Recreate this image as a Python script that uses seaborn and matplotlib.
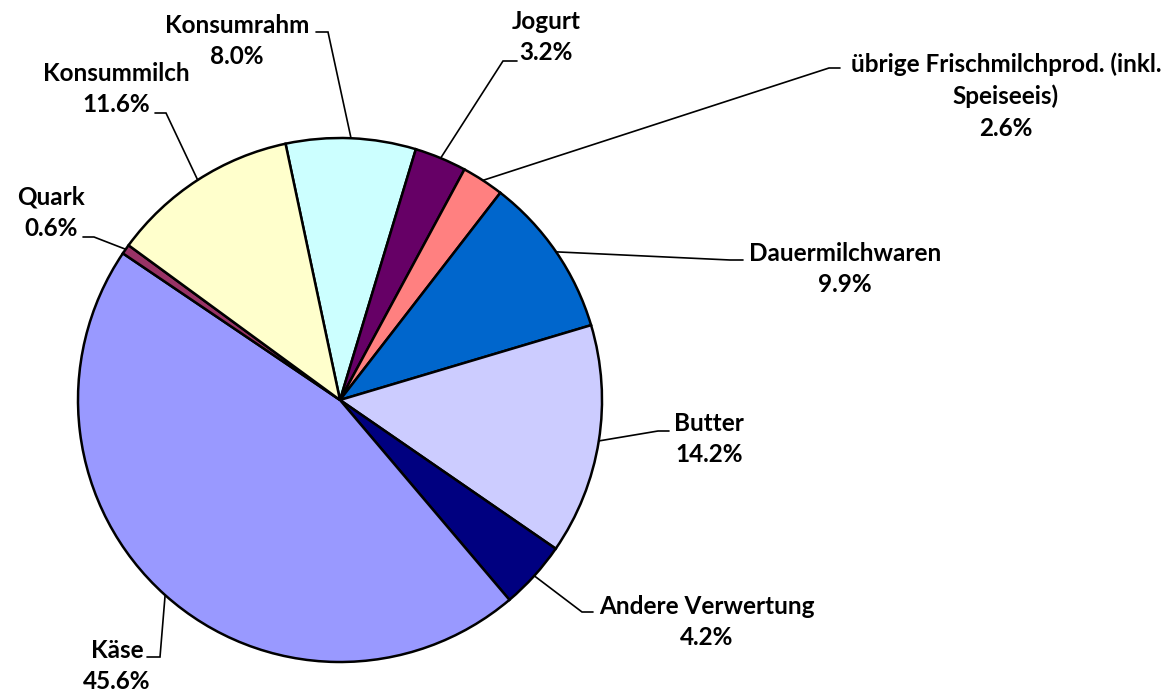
import textwrap
import matplotlib
matplotlib.use("Agg")
import matplotlib.pyplot as plt
import numpy as np
import seaborn as sns

# --------------------------
# Data (clockwise from the top)
# --------------------------
categories = ["Konsumrahm", "Jogurt", "übrige Frischmilchprod. (inkl. Speiseeis)",
              "Dauermilchwaren", "Butter", "Andere Verwertung", "Käse", "Quark",
              "Konsummilch"]
shares = [8.0, 3.2, 2.6, 9.9, 14.2, 4.2, 45.6, 0.6, 11.6]
colors = ["#CCFFFF", "#660066", "#FF8080", "#0066CC", "#CCCCFF", "#000080",
          "#9999FF", "#993366", "#FFFFCC"]

# label layout in pixel coords (x, y from top): text centre, elbow, line end
text_pos = [(237, 41), (546, 37), (1006, 96), (845, 269), (709, 439),
            (707, 622), (117, 666), (51, 213), (116, 89)]
elbow_pos = [(328, 32), (503, 61), (829, 68), (730, 260), (658, 431),
             (582, 612), (160, 657), (94, 237), (166, 113)]
end_pos = [(316, 32), (517, 61), (840, 68), (743, 260), (669, 431),
           (593, 612), (147, 657), (83, 237), (155, 113)]

W, H = 1175, 694
CX, CY, R = 340, 400, 262

sns.set_theme(style="white")
plt.rcParams["font.family"] = ["Lato", "DejaVu Sans"]

fig = plt.figure(figsize=(W / 100, H / 100), dpi=100)
ax = fig.add_axes([0, 0, 1, 1])

wedges, _ = ax.pie(shares, colors=colors, startangle=102, counterclock=False,
                   center=(CX, H - CY), radius=R,
                   wedgeprops=dict(edgecolor="black", linewidth=1.8))
ax.set_xlim(0, W)
ax.set_ylim(0, H)
ax.axis("off")

for i, w in enumerate(wedges):
    mid = np.deg2rad((w.theta1 + w.theta2) / 2)
    sx = CX + R * np.cos(mid)
    sy = (H - CY) + R * np.sin(mid)
    ex, ey = elbow_pos[i]
    fx, fy = end_pos[i]
    ax.plot([sx, ex, fx], [sy, H - ey, H - fy], color="black", lw=1.2,
            solid_joinstyle="miter")
    label = textwrap.fill(categories[i], 30) + "\n" + f"{shares[i]:.1f}%"
    tx, ty = text_pos[i]
    ax.text(tx, H - ty, label, ha="center", va="center", fontsize=17.5,
            fontweight="bold", linespacing=1.45, color="black")

fig.savefig("out.png", dpi=100)
